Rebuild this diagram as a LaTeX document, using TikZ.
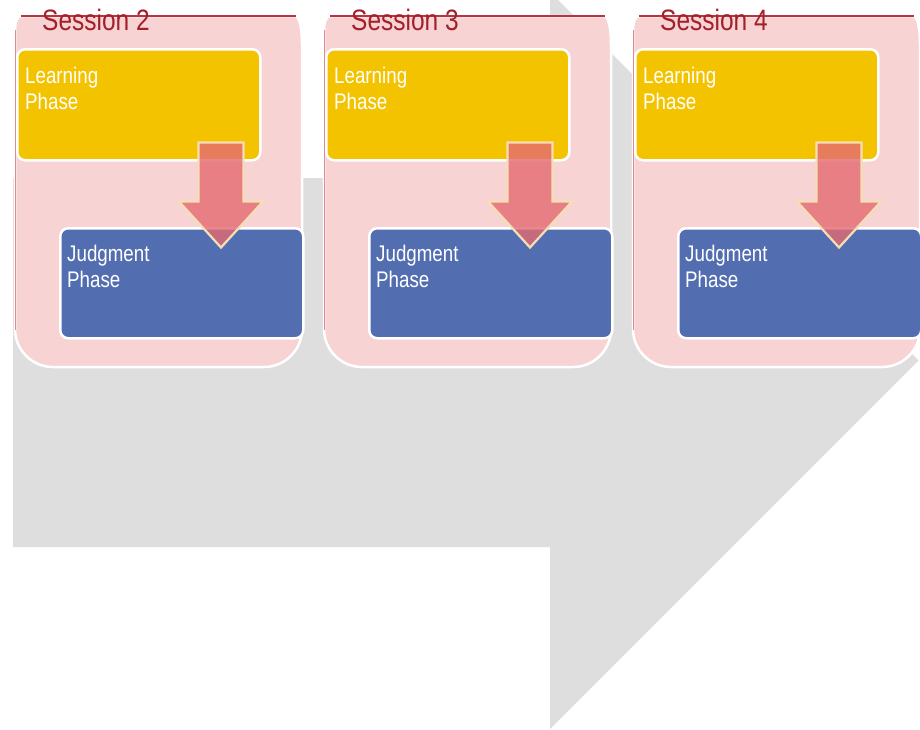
\documentclass[tikz,border=0pt]{standalone}
\usepackage{fontspec}
\newfontfamily\narrowfont[FakeStretch=0.83]{Liberation Sans}
\usetikzlibrary{calc}

\definecolor{flowgray}{HTML}{DEDEDE}
\definecolor{sessionpink}{HTML}{F7D3D4}
\definecolor{sessionred}{HTML}{A3202B}
\definecolor{edgered}{HTML}{B8343E}
\definecolor{sidered}{HTML}{DE8A8E}
\definecolor{learnyellow}{HTML}{F3C300}
\definecolor{judgeblue}{HTML}{526EB0}
\definecolor{arrowred}{HTML}{E36B72}
\definecolor{arrowrim}{HTML}{F6DEB4}

\begin{document}
\begin{tikzpicture}[x=1pt,y=-1pt,
  sessionbox/.style={fill=sessionpink,draw=white,line width=2.5pt},
  topedge/.style={draw=edgered,line width=1.3pt},
  sideedge/.style={draw=sidered,line width=1.2pt},
  sessiontitle/.style={text=sessionred,font=\narrowfont\fontsize{29.5}{32}\selectfont,
    anchor=base west,inner sep=0pt},
  phasebox/.style={draw=white,line width=2.5pt,rounded corners=8pt,
    minimum width=243pt,inner sep=0pt,anchor=north west},
  learnbox/.style={phasebox,fill=learnyellow,minimum height=111pt},
  judgebox/.style={phasebox,fill=judgeblue,minimum height=110pt},
  phasetext/.style={text=white,font=\narrowfont\fontsize{22.6}{25.5}\selectfont,
    align=left,anchor=north west,inner sep=0pt},
  blockarrow/.style={fill=arrowred,fill opacity=0.8,draw=arrowrim,line width=2.2pt,
    line join=miter}]

\useasboundingbox (0,0) rectangle (920,729);

% large grey process arrow in the background
\fill[flowgray] (13,178) -- (550,178) -- (550,-8) -- (918.5,360.5)
  -- (550,729) -- (550,547) -- (13,547) -- cycle;

\foreach \n/\dx in {2/0,3/309,4/618}{
  \begin{scope}[xshift=\dx pt]
    % session panel
    \draw[sessionbox] (22,16) -- (295,16) .. controls (299,16) and (302,26) .. (302,45)
      -- (302,329) .. controls (302,350) and (285,367) .. (264,367)
      -- (53,367) .. controls (32,367) and (15,350) .. (15,329)
      -- (15,30) .. controls (15,22) and (17,16) .. (22,16) -- cycle;
    \draw[topedge] (21,16) -- (296,16);
    \draw[sideedge] (15.6,30) -- (15.6,330);
    \node[sessiontitle] (title\n) at (42,30) {Session \n};

    % phases
    \node[learnbox] (learn\n) at (16,48) {};
    \node[judgebox] (judge\n) at (59,227) {};
    \node[phasetext] (learntext\n) at ($(learn\n.north west)+(9,19)$) {Learning\\Phase};
    \node[phasetext] (judgetext\n) at ($(judge\n.north west)+(8,18)$) {Judgment\\Phase};

    % block arrow from learning to judgment
    \coordinate (tip\n) at ($(learn\n.south east)+(-40.5,-19)$);
    \begin{scope}[shift={(tip\n)}]
      \draw[blockarrow] (-22.5,0) -- (22.5,0) -- (22.5,59) -- (42,59) -- (0,105)
        -- (-42,59) -- (-22.5,59) -- cycle;
    \end{scope}
  \end{scope}
}
\end{tikzpicture}
\end{document}
